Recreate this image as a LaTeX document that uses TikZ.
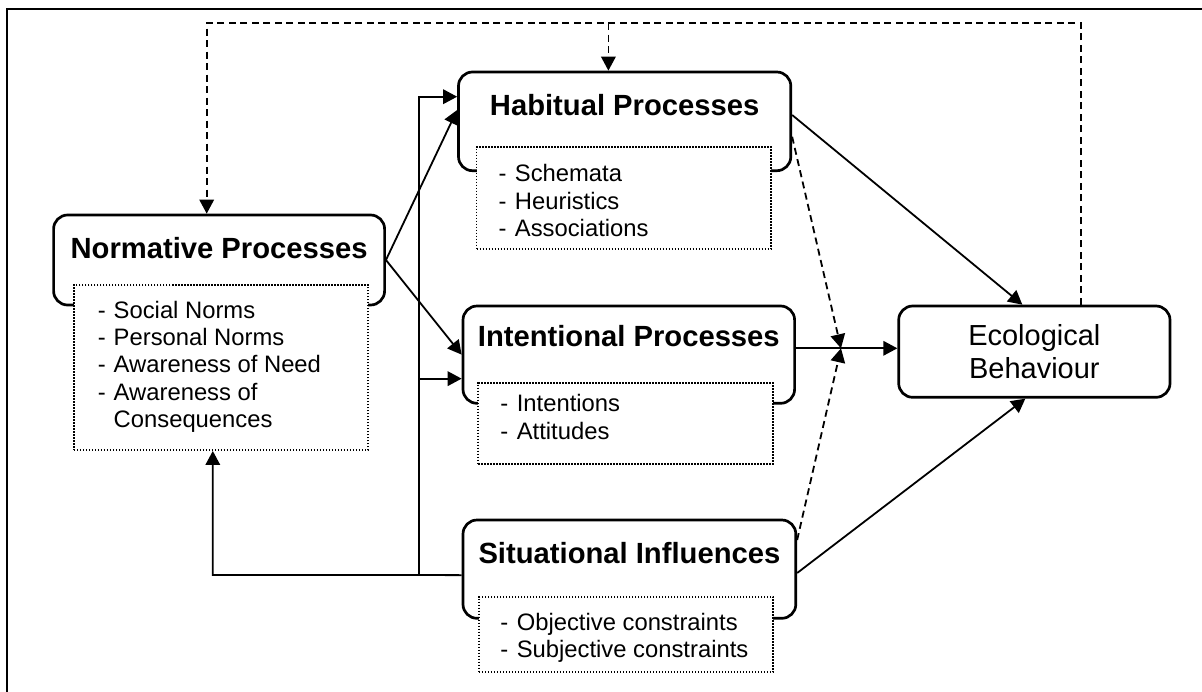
\documentclass[tikz,border=0pt]{standalone}
\usepackage{fontspec}
\setmainfont{Liberation Sans}
\usetikzlibrary{arrows.meta}
\begin{document}
\begin{tikzpicture}[x=1pt,y=-1pt,
  procbox/.style={draw, line width=2.7pt, rounded corners=14pt, fill=white, inner sep=0pt},
  listbox/.style={draw, line width=1.9pt, dash pattern=on 1.5pt off 1.5pt, fill=white, inner sep=0pt, minimum width=294.3pt},
  titletext/.style={font=\fontsize{29.2}{33.6}\selectfont\bfseries, inner sep=0pt, anchor=base},
  listtext/.style={font=\fontsize{23.8}{27.4}\selectfont, inner sep=0pt, anchor=base west},
  conn/.style={line width=1.8pt, -{Triangle[length=14pt,width=14.5pt]}},
  dconn/.style={conn, dash pattern=on 7pt off 4.5pt}
]
\useasboundingbox (0,0) rectangle (1202,691);

% outer frame
\draw[line width=2pt] (6.9,720) |- (1230,9);

% process boxes
\node[procbox, minimum width=331pt, minimum height=90pt] (norm) at (219.1,260) {};
\node[procbox, minimum width=332.3pt, minimum height=98.7pt] (hab) at (624.65,121.35) {};
\node[procbox, minimum width=331.6pt, minimum height=97.3pt] (int) at (628.8,354.65) {};
\node[procbox, minimum width=332.8pt, minimum height=98.3pt] (sit) at (629.4,569.15) {};
\node[procbox, minimum width=271.3pt, minimum height=91.3pt, align=center,
      font=\fontsize{29}{33}\selectfont] (eco) at (1034.35,351.65) {Ecological\\Behaviour};

% dotted lists
\node[listbox, minimum height=165pt] (normL) at (221.05,367.5) {};
\node[listbox, minimum height=102.6pt] (habL) at (623.65,198) {};
\node[listbox, minimum height=81.6pt] (intL) at (625.55,423.5) {};
\node[listbox, minimum height=75.6pt] (sitL) at (625.95,634.5) {};

% titles
\node[titletext] (normT) at (219.1,258.3) {Normative Processes};
\node[titletext] (habT) at (624.65,115) {Habitual Processes};
\node[titletext] (intT) at (628.8,346.7) {Intentional Processes};
\node[titletext] (sitT) at (629.4,563) {Situational Influences};

% list items
\node[listtext] (normItems) at (97.6,318) {\begin{tabular}[t]{@{}l@{\hspace{8pt}}l@{}}
- & Social Norms\\ - & Personal Norms\\ - & Awareness of Need\\ - & Awareness of\\ & Consequences\end{tabular}};
\node[listtext] (habItems) at (498.3,181.7) {\begin{tabular}[t]{@{}l@{\hspace{8.5pt}}l@{}}
- & Schemata\\ - & Heuristics\\ - & Associations\end{tabular}};
\node[listtext] (intItems) at (500.2,411.7) {\begin{tabular}[t]{@{}l@{\hspace{8.5pt}}l@{}}
- & Intentions\\ - & Attitudes\end{tabular}};
\node[listtext] (sitItems) at (500.2,630) {\begin{tabular}[t]{@{}l@{\hspace{8.5pt}}l@{}}
- & Objective constraints\\ - & Subjective constraints\end{tabular}};

% helper coordinates
\coordinate (spine) at (419,575);
\coordinate (J) at (841,348.3);
\coordinate (topR) at (1081,23);
\coordinate (ecoOut) at ([xshift=46.65pt]eco.north);
\coordinate (normIn) at ([xshift=-12.4pt]norm.north);
\coordinate (habIn) at ([xshift=-16.25pt]hab.north);
\coordinate (intIn) at ([yshift=-24pt]int.west);
\coordinate (normLIn) at ([xshift=-8.25pt]normL.south);

% feedback from behaviour (dashed)
\draw[dconn] (ecoOut) -- (topR) -| (normIn);
\draw[dconn] (habIn |- topR) -- (habIn);

% normative influences
\draw[conn] (norm.east) -- ([yshift=11.35pt]hab.west);
\draw[conn] (norm.east) -- (int.west);

% situational influences
\draw[conn] ([yshift=-6pt]sit.west) -- (spine) -| (normLIn);
\draw[conn] (spine) |- ([yshift=24.65pt]hab.west);
\draw[conn] (intIn -| spine) -- (intIn);

% paths to behaviour
\draw[conn] ([yshift=6.35pt]hab.east) -- ([xshift=-12pt]eco.north);
\draw[conn] (int.east |- J) -- (eco.west |- J);
\draw[conn] ([yshift=-3.85pt]sit.east) -- ([xshift=-9pt]eco.south);

% moderating influences (dashed)
\draw[dconn] ([yshift=-15.35pt]hab.east) -- (J);
\draw[dconn] ([yshift=29.15pt]sit.east) -- (J);
\end{tikzpicture}
\end{document}
